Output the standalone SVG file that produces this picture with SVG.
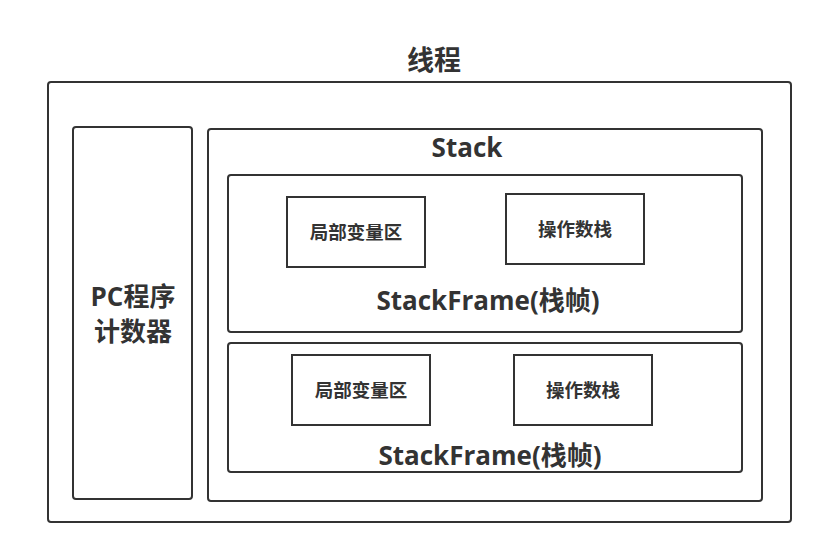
<svg xmlns="http://www.w3.org/2000/svg" width="823" height="555" viewBox="0 0 823 555">
<style>
.box{fill:#fff;stroke:#333;stroke-width:2}
.t{font-family:"Open Sans","Noto Sans CJK SC",sans-serif;font-weight:bold;fill:#333;text-anchor:middle}
.big{font-size:26px}
.xl{font-size:27px}
.sm{font-size:18.5px}
</style>
<rect width="823" height="555" fill="#fff"/>
<text class="t xl" x="434" y="70">线程</text>
<g id="thread"><rect class="box" x="48" y="82" width="743" height="440" rx="3"/></g>
<g id="pc">
<rect class="box" x="73" y="127" width="119" height="372" rx="3"/>
<text class="t big" x="133" y="306">PC程序</text>
<text class="t big" x="133" y="341">计数器</text>
</g>
<g id="stack">
<rect class="box" x="208" y="129" width="554" height="372" rx="3"/>
<text class="t big" x="467" y="157">Stack</text>
</g>
<g id="frame1">
<rect class="box" x="228" y="175" width="514" height="157" rx="3"/>
<text class="t big" x="488" y="310">StackFrame(栈帧)</text>
</g>
<g id="local1"><rect class="box" x="287" y="197" width="138" height="70"/><text class="t sm" x="356" y="239">局部变量区</text></g>
<g id="op1"><rect class="box" x="506" y="194" width="138" height="70"/><text class="t sm" x="575" y="236">操作数栈</text></g>
<g id="frame2">
<rect class="box" x="228" y="343" width="514" height="129" rx="3"/>
<text class="t big" x="490" y="465">StackFrame(栈帧)</text>
</g>
<g id="local2"><rect class="box" x="292" y="355" width="138" height="70"/><text class="t sm" x="361" y="397">局部变量区</text></g>
<g id="op2"><rect class="box" x="514" y="355" width="138" height="70"/><text class="t sm" x="583" y="397">操作数栈</text></g>
<g id="connectors"/>
</svg>
